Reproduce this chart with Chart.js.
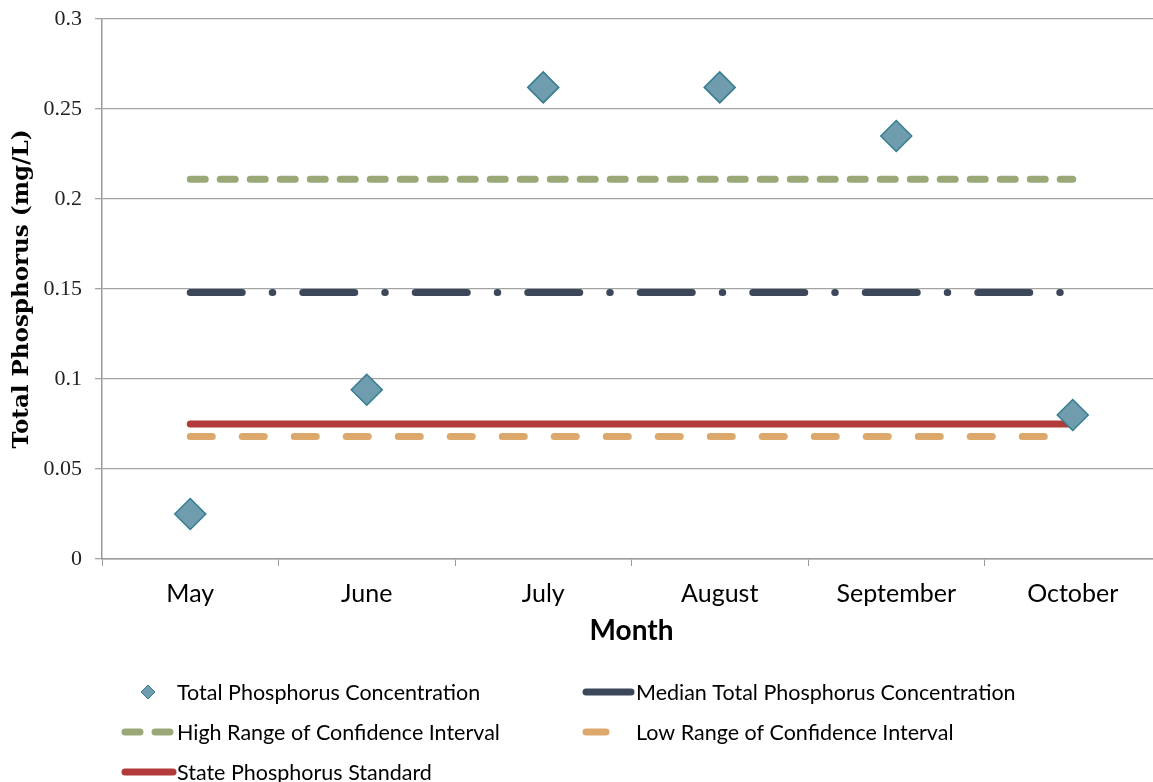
<!DOCTYPE html>
<html>
<head>
<meta charset="utf-8">
<script src="https://cdn.jsdelivr.net/npm/chart.js@4/dist/chart.umd.min.js"></script>
<style>
  html, body { margin: 0; padding: 0; background: #fff; overflow: hidden; }
  #wrap { position: relative; width: 1161px; height: 782px; }
</style>
</head>
<body>
<div id="wrap"><canvas id="myChart"></canvas></div>
<script>
const months = ["May", "June", "July", "August", "September", "October"];
const totalP = [0.025, 0.094, 0.262, 0.262, 0.235, 0.080];
const medianP = [0.148, 0.148, 0.148, 0.148, 0.148, 0.148];
const highCI = [0.211, 0.211, 0.211, 0.211, 0.211, 0.211];
const lowCI = [0.068, 0.068, 0.068, 0.068, 0.068, 0.068];
const stateStd = [0.075, 0.075, 0.075, 0.075, 0.075, 0.075];

const sansFont = "Lato, 'Open Sans', sans-serif";
const serifFont = "'Liberation Serif', 'DejaVu Serif', serif";

// legend drawn by hand: two columns, three rows, under the axis title
const legendSpots = [
  { x1: 124, x2: 172, tx: 177, y: 692 },
  { x1: 586, x2: 631, tx: 636, y: 692 },
  { x1: 125, x2: 173, tx: 177, y: 732 },
  { x1: 586, x2: 606, tx: 636, y: 732 },
  { x1: 125, x2: 173, tx: 177, y: 772 },
];

const legendPlugin = {
  id: "handLegend",
  afterDraw(chart) {
    const ctx = chart.ctx;
    chart.data.datasets.forEach(function (ds, i) {
      const s = legendSpots[i];
      ctx.save();
      if (ds.showLine === false) {
        const cx = 148, r = 7;
        ctx.beginPath();
        ctx.moveTo(cx, s.y - r);
        ctx.lineTo(cx + r, s.y);
        ctx.lineTo(cx, s.y + r);
        ctx.lineTo(cx - r, s.y);
        ctx.closePath();
        ctx.fillStyle = ds.pointBackgroundColor;
        ctx.fill();
        ctx.lineWidth = 1;
        ctx.strokeStyle = ds.pointBorderColor;
        ctx.stroke();
      } else {
        ctx.beginPath();
        ctx.setLineDash(ds.borderDash || []);
        ctx.lineCap = "round";
        ctx.lineWidth = ds.borderWidth;
        ctx.strokeStyle = ds.borderColor;
        ctx.moveTo(s.x1, s.y);
        ctx.lineTo(s.x2, s.y);
        ctx.stroke();
      }
      ctx.setLineDash([]);
      ctx.fillStyle = "#000";
      ctx.font = "21.5px " + sansFont;
      ctx.textBaseline = "middle";
      ctx.textAlign = "left";
      ctx.fillText(ds.label, s.tx, s.y + 1);
      ctx.restore();
    });
  },
};

new Chart("myChart", {
  type: "line",
  data: {
    labels: months,
    datasets: [
      {
        label: "Total Phosphorus Concentration",
        data: totalP,
        showLine: false,
        pointStyle: "rectRot",
        pointRadius: 15.5,
        pointHoverRadius: 15.5,
        pointBackgroundColor: "#6F9DAD",
        pointBorderColor: "#357C93",
        pointBorderWidth: 1.5,
      },
      {
        label: "Median Total Phosphorus Concentration",
        data: medianP,
        borderColor: "#3C4859",
        borderWidth: 7,
        borderCapStyle: "round",
        borderDash: [52, 30, 0.5, 30],
        pointRadius: 0,
      },
      {
        label: "High Range of Confidence Interval",
        data: highCI,
        borderColor: "#9AA878",
        borderWidth: 7,
        borderCapStyle: "round",
        borderDash: [15, 15],
        pointRadius: 0,
      },
      {
        label: "Low Range of Confidence Interval",
        data: lowCI,
        borderColor: "#DDA86C",
        borderWidth: 7,
        borderCapStyle: "round",
        borderDash: [22, 30],
        pointRadius: 0,
      },
      {
        label: "State Phosphorus Standard",
        data: stateStd,
        borderColor: "#B33A3A",
        borderWidth: 7,
        borderCapStyle: "round",
        pointRadius: 0,
      },
    ],
  },
  options: {
    responsive: true,
    maintainAspectRatio: false,
    animation: false,
    layout: { autoPadding: false, padding: { top: 19, right: 0, bottom: 130, left: 0 } },
    plugins: {
      legend: { display: false },
      tooltip: { enabled: false },
    },
    scales: {
      x: {
        offset: true,
        grid: {
          offset: true,
          drawOnChartArea: false,
          drawTicks: true,
          tickLength: 7,
          color: "#9A9A9A",
        },
        border: { color: "#9A9A9A", width: 1.5 },
        ticks: {
          color: "#000",
          padding: 13,
          font: { family: sansFont, size: 25 },
        },
        title: {
          display: true,
          text: "Month",
          color: "#000",
          font: { family: sansFont, size: 28, weight: "bold" },
          padding: { top: 4, bottom: 4 },
        },
        afterFit(scale) {
          scale.height = 93;
          scale.paddingLeft = 0;
          scale.paddingRight = 0;
        },
      },
      y: {
        min: 0,
        max: 0.3,
        grid: {
          color: "#A3A3A3",
          lineWidth: 1.3,
          tickLength: 7,
        },
        border: { color: "#9A9A9A", width: 1.5 },
        ticks: {
          stepSize: 0.05,
          color: "#222",
          padding: 13,
          font: { family: serifFont, size: 22 },
          callback: function (v) {
            return String(+Number(v).toFixed(2));
          },
        },
        title: {
          display: true,
          text: "Total Phosphorus (mg/L)",
          color: "#000",
          font: { family: "'DejaVu Serif', serif", size: 23, weight: "bold" },
          padding: { top: 8, bottom: 4 },
        },
        afterFit(scale) {
          scale.width = 102;
          scale.paddingTop = 0;
          scale.paddingBottom = 0;
        },
      },
    },
  },
  plugins: [legendPlugin],
});
</script>
</body>
</html>
